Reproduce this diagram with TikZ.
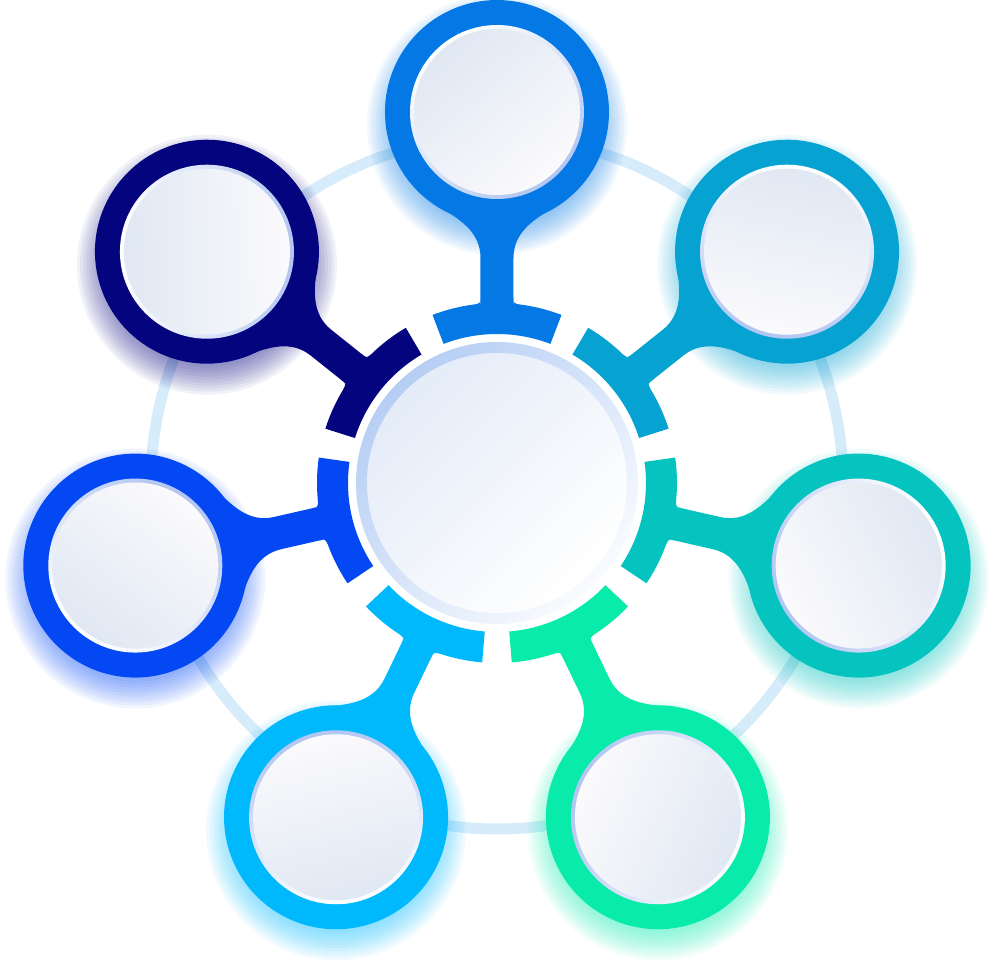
\documentclass[tikz,border=0pt]{standalone}

\definecolor{faint}{HTML}{D6ECFA}
\definecolor{hubTop}{HTML}{0478E4}
\definecolor{hubNE}{HTML}{06A3D2}
\definecolor{hubE}{HTML}{05C3BE}
\definecolor{hubSE}{HTML}{08EBAA}
\definecolor{hubSW}{HTML}{00B8FC}
\definecolor{hubW}{HTML}{0448F4}
\definecolor{hubNW}{HTML}{04047E}
\definecolor{faceTop}{HTML}{E0E8F3}
\definecolor{faceBot}{HTML}{FBFAFC}
\definecolor{rimBlue}{HTML}{B2C6F2}
\definecolor{midRim}{HTML}{B6CEF4}
\definecolor{midFace}{HTML}{E4ECF8}

\begin{document}
\begin{tikzpicture}[x=0.1mm,y=0.1mm,
  rim/.style={top color=white,bottom color=rimBlue},
  face/.style={top color=faceTop,bottom color=faceBot}]
  \useasboundingbox (-497,-497) rectangle (500,483);
  \draw[faint,line width=1.1mm] (0,0) circle (346);
  % glow under the rings
  \foreach \p/\c in {90/hubTop,38.57/hubNE,-12.86/hubE,-64.29/hubSE,-115.71/hubSW,-167.14/hubW,141.43/hubNW}
    \foreach \k in {1,...,10}
      \fill[\c,opacity=0.055] ([yshift=-1.3mm]\p:371) circle (100+3*\k);
  % top
  \begin{scope}[rotate=90]
    \fill[hubTop] (-21:149) arc (-21:21:149) -- (21:180) arc (21:-21:180) -- cycle;
    \fill[hubTop] (176,-16.5) -- (225,-16.5) .. controls (250,-16.5) and (263,-35.5) .. (275.6,-57)
      -- (330,0) -- (275.6,57) .. controls (263,35.5) and (250,16.5) .. (225,16.5) -- (176,16.5) -- cycle;
    \fill[hubTop] (186,16.5) .. controls (180,16.5) .. (178.6,22) -- (177,16.5) -- cycle;
    \fill[hubTop] (186,-16.5) .. controls (180,-16.5) .. (178.6,-22) -- (177,-16.5) -- cycle;
    \fill[hubTop] (371,0) circle (112);
  \end{scope}
  % upper right
  \begin{scope}[rotate=38.57]
    \fill[hubNE] (-21:149) arc (-21:21:149) -- (21:180) arc (21:-21:180) -- cycle;
    \fill[hubNE] (176,-16.5) -- (225,-16.5) .. controls (250,-16.5) and (263,-35.5) .. (275.6,-57)
      -- (330,0) -- (275.6,57) .. controls (263,35.5) and (250,16.5) .. (225,16.5) -- (176,16.5) -- cycle;
    \fill[hubNE] (186,16.5) .. controls (180,16.5) .. (178.6,22) -- (177,16.5) -- cycle;
    \fill[hubNE] (186,-16.5) .. controls (180,-16.5) .. (178.6,-22) -- (177,-16.5) -- cycle;
    \fill[hubNE] (371,0) circle (112);
  \end{scope}
  % right
  \begin{scope}[rotate=-12.86]
    \fill[hubE] (-21:149) arc (-21:21:149) -- (21:180) arc (21:-21:180) -- cycle;
    \fill[hubE] (176,-16.5) -- (225,-16.5) .. controls (250,-16.5) and (263,-35.5) .. (275.6,-57)
      -- (330,0) -- (275.6,57) .. controls (263,35.5) and (250,16.5) .. (225,16.5) -- (176,16.5) -- cycle;
    \fill[hubE] (186,16.5) .. controls (180,16.5) .. (178.6,22) -- (177,16.5) -- cycle;
    \fill[hubE] (186,-16.5) .. controls (180,-16.5) .. (178.6,-22) -- (177,-16.5) -- cycle;
    \fill[hubE] (371,0) circle (112);
  \end{scope}
  % lower right
  \begin{scope}[rotate=-64.29]
    \fill[hubSE] (-21:149) arc (-21:21:149) -- (21:180) arc (21:-21:180) -- cycle;
    \fill[hubSE] (176,-16.5) -- (225,-16.5) .. controls (250,-16.5) and (263,-35.5) .. (275.6,-57)
      -- (330,0) -- (275.6,57) .. controls (263,35.5) and (250,16.5) .. (225,16.5) -- (176,16.5) -- cycle;
    \fill[hubSE] (186,16.5) .. controls (180,16.5) .. (178.6,22) -- (177,16.5) -- cycle;
    \fill[hubSE] (186,-16.5) .. controls (180,-16.5) .. (178.6,-22) -- (177,-16.5) -- cycle;
    \fill[hubSE] (371,0) circle (112);
  \end{scope}
  % lower left
  \begin{scope}[rotate=-115.71]
    \fill[hubSW] (-21:149) arc (-21:21:149) -- (21:180) arc (21:-21:180) -- cycle;
    \fill[hubSW] (176,-16.5) -- (225,-16.5) .. controls (250,-16.5) and (263,-35.5) .. (275.6,-57)
      -- (330,0) -- (275.6,57) .. controls (263,35.5) and (250,16.5) .. (225,16.5) -- (176,16.5) -- cycle;
    \fill[hubSW] (186,16.5) .. controls (180,16.5) .. (178.6,22) -- (177,16.5) -- cycle;
    \fill[hubSW] (186,-16.5) .. controls (180,-16.5) .. (178.6,-22) -- (177,-16.5) -- cycle;
    \fill[hubSW] (371,0) circle (112);
  \end{scope}
  % left
  \begin{scope}[rotate=-167.14]
    \fill[hubW] (-21:149) arc (-21:21:149) -- (21:180) arc (21:-21:180) -- cycle;
    \fill[hubW] (176,-16.5) -- (225,-16.5) .. controls (250,-16.5) and (263,-35.5) .. (275.6,-57)
      -- (330,0) -- (275.6,57) .. controls (263,35.5) and (250,16.5) .. (225,16.5) -- (176,16.5) -- cycle;
    \fill[hubW] (186,16.5) .. controls (180,16.5) .. (178.6,22) -- (177,16.5) -- cycle;
    \fill[hubW] (186,-16.5) .. controls (180,-16.5) .. (178.6,-22) -- (177,-16.5) -- cycle;
    \fill[hubW] (371,0) circle (112);
  \end{scope}
  % upper left
  \begin{scope}[rotate=141.43]
    \fill[hubNW] (-21:149) arc (-21:21:149) -- (21:180) arc (21:-21:180) -- cycle;
    \fill[hubNW] (176,-16.5) -- (225,-16.5) .. controls (250,-16.5) and (263,-35.5) .. (275.6,-57)
      -- (330,0) -- (275.6,57) .. controls (263,35.5) and (250,16.5) .. (225,16.5) -- (176,16.5) -- cycle;
    \fill[hubNW] (186,16.5) .. controls (180,16.5) .. (178.6,22) -- (177,16.5) -- cycle;
    \fill[hubNW] (186,-16.5) .. controls (180,-16.5) .. (178.6,-22) -- (177,-16.5) -- cycle;
    \fill[hubNW] (371,0) circle (112);
  \end{scope}
  % faces of the seven rings
  \coordinate (ringTop) at (90:371);
  \coordinate (ringNE) at (38.57:371);
  \coordinate (ringE) at (-12.86:371);
  \coordinate (ringSE) at (-64.29:371);
  \coordinate (ringSW) at (-115.71:371);
  \coordinate (ringW) at (-167.14:371);
  \coordinate (ringNW) at (141.43:371);
  \shade[rim,shading angle=40] (ringTop) circle (87);
  \shade[face,shading angle=40] (ringTop) circle (83);
  \shade[rim,shading angle=-11.43] (ringNE) circle (87);
  \shade[face,shading angle=-11.43] (ringNE) circle (83);
  \shade[rim,shading angle=-62.86] (ringE) circle (87);
  \shade[face,shading angle=-62.86] (ringE) circle (83);
  \shade[rim,shading angle=-114.29] (ringSE) circle (87);
  \shade[face,shading angle=-114.29] (ringSE) circle (83);
  \shade[rim,shading angle=-165.71] (ringSW) circle (87);
  \shade[face,shading angle=-165.71] (ringSW) circle (83);
  \shade[rim,shading angle=142.86] (ringW) circle (87);
  \shade[face,shading angle=142.86] (ringW) circle (83);
  \shade[rim,shading angle=91.43] (ringNW) circle (87);
  \shade[face,shading angle=91.43] (ringNW) circle (83);
  % middle disc
  \coordinate (hub) at (0,0);
  \fill[white] (hub) circle (143);
  \shade[top color=midRim,bottom color=white!92!midRim,shading angle=45] (hub) circle (141);
  \shade[top color=midFace,bottom color=white,shading angle=45] (hub) circle (130);
\end{tikzpicture}
\end{document}
